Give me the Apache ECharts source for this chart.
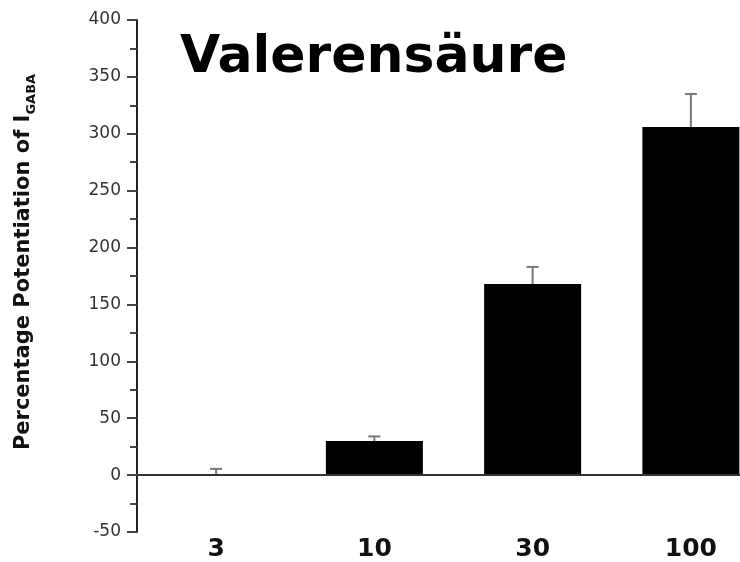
<!DOCTYPE html>
<html lang="en">
<head>
    <meta charset="UTF-8">
    <title>Valerensäure</title>
    <script src="https://cdn.jsdelivr.net/npm/echarts@6/dist/echarts.min.js"></script>
    <style>
        html, body {
            margin: 0;
            padding: 0;
            background: #fff;
            overflow: hidden;
        }
    </style>
</head>
<body>
<!-- the figure is cut off on the right, so the chart is a bit wider than the window -->
<div id="main" style="width:770px;height:562px;"></div>
<script>
    // concentrations (x categories)
    var concentrations = ['3', '10', '30', '100'];
    // mean potentiation of I_GABA (%)
    var potentiation = [0.5, 30, 168, 306];
    // error (SEM), drawn upward only
    var errors = [5, 4, 15, 29];
    var yTicks = {min: -50, max: 400, interval: 50};

    var myChart = echarts.init(document.getElementById('main'));
    var option = {
        animation: false,
        title: {
            text: 'Valerensäure',
            left: 175,
            top: 27,
            textStyle: {
                fontFamily: 'DejaVu Sans',
                fontWeight: 'bold',
                fontSize: 52,
                color: '#000'
            }
        },
        grid: {
            left: 137,
            right: 0,
            top: 20,
            bottom: 24
        },
        xAxis: {
            type: 'category',
            data: concentrations,
            axisLine: {show: false, onZero: false},
            axisTick: {show: false},
            axisLabel: {
                margin: 5,
                fontFamily: 'DejaVu Sans',
                fontWeight: 'bold',
                fontSize: 25,
                color: '#111'
            }
        },
        yAxis: {
            type: 'value',
            min: yTicks.min,
            max: yTicks.max,
            interval: yTicks.interval,
            name: '{a|Percentage Potentiation of I}{s|GABA}',
            nameLocation: 'middle',
            nameRotate: 90,
            nameGap: 99,
            nameTextStyle: {
                padding: [0, 0, 0, 28],
                rich: {
                    a: {
                        fontFamily: 'DejaVu Sans',
                        fontWeight: 'bold',
                        fontSize: 21,
                        lineHeight: 28,
                        color: '#111'
                    },
                    s: {
                        fontFamily: 'DejaVu Sans',
                        fontWeight: 'bold',
                        fontSize: 13,
                        lineHeight: 14,
                        verticalAlign: 'bottom',
                        color: '#111'
                    }
                }
            },
            axisLine: {show: true, lineStyle: {color: '#222', width: 2}},
            axisTick: {show: true, length: 10, lineStyle: {color: '#444', width: 2}},
            minorTick: {show: true, splitNumber: 2, length: 7, lineStyle: {color: '#444', width: 2}},
            splitLine: {show: false},
            axisLabel: {
                margin: 16,
                fontFamily: 'DejaVu Sans',
                fontSize: 17,
                color: '#333'
            }
        },
        series: [
            {
                type: 'bar',
                data: potentiation,
                barWidth: 97,
                itemStyle: {color: '#000'},
                markLine: {
                    silent: true,
                    symbol: 'none',
                    label: {show: false},
                    lineStyle: {color: '#333', width: 2, type: 'solid'},
                    data: [{yAxis: 0}]
                },
                z: 2
            },
            {
                type: 'custom',
                data: concentrations.map(function (c, i) {
                    return [i, potentiation[i], potentiation[i] + errors[i]];
                }),
                renderItem: function (params, api) {
                    var base = api.coord([api.value(0), api.value(1)]);
                    var top = api.coord([api.value(0), api.value(2)]);
                    var half = 6;
                    var style = {stroke: '#777', lineWidth: 2};
                    return {
                        type: 'group',
                        children: [
                            {type: 'line', shape: {x1: base[0], y1: base[1], x2: top[0], y2: top[1]}, style: style},
                            {type: 'line', shape: {x1: top[0] - half, y1: top[1], x2: top[0] + half, y2: top[1]}, style: style}
                        ]
                    };
                },
                z: 3
            }
        ]
    };
    myChart.setOption(option);
</script>
</body>
</html>
